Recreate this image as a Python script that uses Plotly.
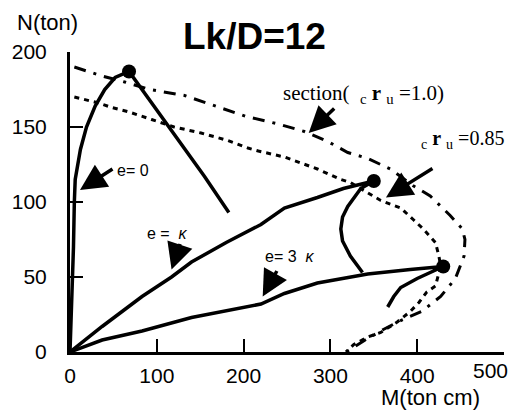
import plotly.graph_objects as go

# ---- data (M in ton*cm, N in ton) ----
sec10_M = [5, 37, 63, 92, 132, 178, 203, 240, 270, 298, 320, 343, 369, 395, 415, 438, 452, 455, 454, 444, 427, 405, 381, 361, 340, 318]
sec10_N = [190, 184, 180, 175, 171, 162, 157, 152, 147, 140, 133, 129, 122, 111, 104, 91, 82, 75, 64, 49, 37, 27, 21, 15, 8, 0]

sec085_M = [5, 33, 48, 68, 94, 120, 151, 182, 205, 217, 247, 285, 312, 323, 358, 381, 396, 407, 421, 425, 427, 421, 411, 402, 392, 377, 358, 343, 327, 318]
sec085_N = [170, 166, 163, 160, 155, 150, 146, 141, 136, 134, 130, 122, 115, 113, 101, 96, 88, 82, 73, 64, 57, 44, 40, 33, 27, 20, 13, 10, 5, 0]

e0_M = [0, 2, 4, 5, 6, 12, 19, 29, 40, 52, 68, 155, 183]
e0_N = [0, 30, 70, 100, 115, 135, 150, 164, 175, 183, 187, 117, 93]

ek_M = [0, 37, 83, 117, 140, 180, 220, 247, 285, 315, 350, 335, 320, 314, 312, 314, 323, 337]
ek_N = [0, 17, 37, 50, 60, 73, 85, 96, 103, 109, 114, 109, 97, 90, 82, 74, 64, 53]

e3k_M = [0, 37, 83, 140, 220, 247, 285, 343, 392, 430, 400, 381, 373, 366]
e3k_N = [0, 8, 14, 23, 32, 39, 46, 52, 55, 57, 49, 43, 37, 30]

peak_M = [68, 350, 430]
peak_N = [187, 114, 57]

x_ticks = [0, 100, 200, 300, 400, 500]
x_ticklabels = ["0", "100", "200", "300", "400", ""]  # "500" drawn as an annotation (edge of page)
y_ticks = [0, 50, 100, 150, 200]

fig = go.Figure()
fig.add_trace(go.Scatter(x=sec10_M, y=sec10_N, mode="lines",
                         line=dict(color="black", width=3, dash="12px,8px,3px,8px")))
fig.add_trace(go.Scatter(x=sec085_M, y=sec085_N, mode="lines",
                         line=dict(color="black", width=3, dash="5px,5px")))
for xs, ys in [(e0_M, e0_N), (ek_M, ek_N), (e3k_M, e3k_N)]:
    fig.add_trace(go.Scatter(x=xs, y=ys, mode="lines",
                             line=dict(color="black", width=3.5)))
fig.add_trace(go.Scatter(x=peak_M, y=peak_N, mode="markers",
                         marker=dict(color="black", size=14)))

sans = "Liberation Sans, Arial, sans-serif"
serif = "Liberation Serif, Times New Roman, serif"

anns = []
# arrows (head at data point, tail offset in px)
for hx, hy, ax, ay in [(11.5, 108, 34, -22), (117, 55, 9, -27), (222, 37, 15, -27),
                       (275, 146, 27, -26), (364, 103, 48, -30)]:
    anns.append(dict(x=hx, y=hy, ax=ax, ay=ay, text="", showarrow=True,
                     arrowhead=2, arrowsize=1.5, arrowwidth=3.5, arrowcolor="black"))
# texts
anns += [
    dict(x=72, y=121, text="e= 0", showarrow=False, font=dict(family=sans, size=16)),
    dict(x=112, y=79, text="e =  <i>κ</i>", showarrow=False, font=dict(family=sans, size=16)),
    dict(x=253, y=64, text="e= 3  <i>κ</i>", showarrow=False, font=dict(family=sans, size=16)),
    dict(x=338, y=172, text="section(  <sub>c</sub> <b>r</b> <sub>u</sub> =1.0)", showarrow=False,
         font=dict(family=serif, size=21)),
    dict(x=452, y=142, text="<sub>c</sub> <b>r</b> <sub>u</sub> =0.85", showarrow=False,
         font=dict(family=serif, size=20)),
    dict(xref="paper", yref="paper", x=0.424, y=1.053, xanchor="center", yanchor="middle",
         text="<b>Lk/D=12</b>", showarrow=False, font=dict(family=sans, size=37)),
    dict(xref="paper", yref="paper", x=-0.127, y=1.097, xanchor="left", yanchor="middle",
         text="N(ton)", showarrow=False, font=dict(family=sans, size=22)),
    dict(xref="paper", yref="paper", x=0.95, y=-0.152, xanchor="right", yanchor="middle",
         text="M(ton cm)", showarrow=False, font=dict(family=sans, size=22)),
    dict(xref="paper", yref="paper", x=0.97, y=-0.063, xanchor="center", yanchor="middle",
         text="500", showarrow=False, font=dict(family=sans, size=21)),
]

fig.update_layout(
    width=516, height=411,
    margin=dict(l=68, r=12, t=52, b=59),
    paper_bgcolor="white", plot_bgcolor="white",
    showlegend=False,
    annotations=anns,
    font=dict(family=sans, color="black"),
)
fig.update_xaxes(range=[0, 500], tickvals=x_ticks, ticktext=x_ticklabels, ticks="inside",
                 ticklen=13, tickwidth=2,
                 tickcolor="black", showline=True, linecolor="black", linewidth=3,
                 showgrid=False, zeroline=False, tickfont=dict(family=sans, size=21),
                 ticklabelstandoff=3)
fig.update_yaxes(range=[0, 200], tickvals=y_ticks, ticks="inside", ticklen=13, tickwidth=2,
                 tickcolor="black", showline=True, linecolor="black", linewidth=3,
                 showgrid=False, zeroline=False, tickfont=dict(family=sans, size=21),
                 ticklabelstandoff=16)

fig.write_html("out.html")
